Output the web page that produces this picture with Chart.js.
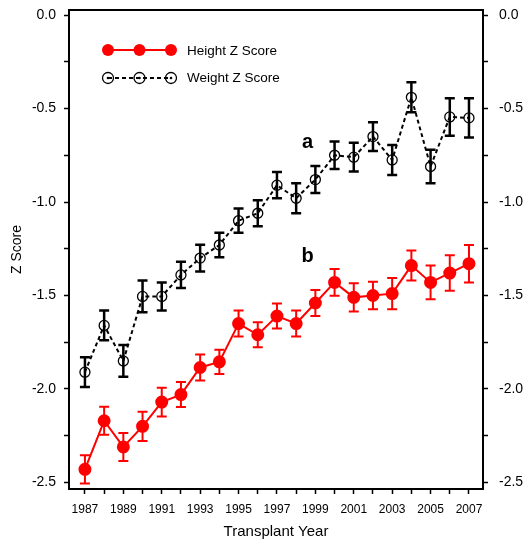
<!DOCTYPE html>
<html>
<head>
<meta charset="utf-8">
<script src="https://cdn.jsdelivr.net/npm/chart.js@4.4.0/dist/chart.umd.min.js"></script>
<style>
  html, body { margin: 0; padding: 0; background: #fff; }
</style>
</head>
<body>
<canvas id="chart" width="523" height="543"></canvas>
<script>
const years = [1987, 1988, 1989, 1990, 1991, 1992, 1993, 1994, 1995, 1996, 1997,
  1998, 1999, 2000, 2001, 2002, 2003, 2004, 2005, 2006, 2007];
const heightZ = [-2.43, -2.17, -2.31, -2.20, -2.07, -2.03, -1.885, -1.855, -1.65, -1.71, -1.61,
  -1.65, -1.54, -1.43, -1.51, -1.50, -1.49, -1.34, -1.43, -1.38, -1.33];
const heightErr = [0.075, 0.075, 0.075, 0.078, 0.077, 0.067, 0.07, 0.065, 0.07, 0.067, 0.067,
  0.07, 0.07, 0.072, 0.075, 0.074, 0.083, 0.08, 0.09, 0.095, 0.1];
const weightZ = [-1.91, -1.66, -1.85, -1.505, -1.505, -1.39, -1.30, -1.23, -1.10, -1.06, -0.91,
  -0.98, -0.88, -0.75, -0.76, -0.65, -0.775, -0.44, -0.81, -0.545, -0.55];
const weightErr = [0.08, 0.08, 0.085, 0.085, 0.075, 0.07, 0.072, 0.065, 0.065, 0.07, 0.07,
  0.08, 0.072, 0.073, 0.077, 0.077, 0.08, 0.08, 0.09, 0.1, 0.105];
const seriesNames = ['Height Z Score', 'Weight Z Score'];
const yTickStep = 0.25;

const FONT = "'Liberation Sans', Arial, sans-serif";
Chart.defaults.font.family = FONT;
Chart.defaults.color = '#000';

// vertical error bars with caps, drawn through the scales
const errorBars = {
  id: 'errorBars',
  afterDatasetsDraw(chart) {
    const { ctx, scales: { x, y } } = chart;
    chart.data.datasets.forEach(ds => {
      ctx.save();
      ctx.strokeStyle = ds.borderColor;
      ctx.lineWidth = ds.errWidth;
      ds.data.forEach((p, i) => {
        const px = x.getPixelForValue(p.x);
        const top = y.getPixelForValue(p.y + ds.errors[i]);
        const bot = y.getPixelForValue(p.y - ds.errors[i]);
        ctx.beginPath();
        ctx.moveTo(px, top); ctx.lineTo(px, bot);
        ctx.moveTo(px - 5, top); ctx.lineTo(px + 5, top);
        ctx.moveTo(px - 5, bot); ctx.lineTo(px + 5, bot);
        ctx.stroke();
      });
      ctx.restore();
    });
  }
};

// box frame, legend and the a / b letters
const extras = {
  id: 'extras',
  afterDraw(chart) {
    const { ctx, chartArea: a, scales: { x, y } } = chart;
    ctx.save();
    ctx.strokeStyle = '#000';
    ctx.lineWidth = 2;
    ctx.strokeRect(a.left, a.top, a.right - a.left, a.bottom - a.top);

    // legend
    const lx = [108, 139.5, 171];
    ctx.lineWidth = 2;
    ctx.strokeStyle = '#ff0000';
    ctx.beginPath(); ctx.moveTo(lx[0], 50); ctx.lineTo(lx[2], 50); ctx.stroke();
    ctx.fillStyle = '#ff0000';
    lx.forEach(cx => { ctx.beginPath(); ctx.arc(cx, 50, 6, 0, Math.PI * 2); ctx.fill(); });

    ctx.strokeStyle = '#000';
    ctx.setLineDash([4, 3]);
    ctx.beginPath(); ctx.moveTo(lx[0], 78); ctx.lineTo(lx[2], 78); ctx.stroke();
    ctx.setLineDash([]);
    ctx.lineWidth = 1.3;
    ctx.fillStyle = '#000';
    lx.forEach(cx => {
      ctx.beginPath(); ctx.arc(cx, 78, 5.5, 0, Math.PI * 2); ctx.stroke();
      ctx.beginPath(); ctx.arc(cx, 78, 1.3, 0, Math.PI * 2); ctx.fill();
    });

    ctx.font = '13.5px ' + FONT;
    ctx.textBaseline = 'middle';
    ctx.fillText(seriesNames[0], 187, 51);
    ctx.fillText(seriesNames[1], 187, 78);

    ctx.font = 'bold 20px ' + FONT;
    ctx.textAlign = 'center';
    ctx.fillText('a', x.getPixelForValue(1998.6), y.getPixelForValue(-0.68));
    ctx.fillText('b', x.getPixelForValue(1998.6), y.getPixelForValue(-1.29));
    ctx.restore();
  }
};

const zLabel = v => {
  const h = v * 2;
  return Math.abs(h - Math.round(h)) < 1e-6 ? v.toFixed(1) : '';
};

// fixed box sizes so the plot frame lands where the original has it
const fixBox = (w, h) => s => {
  if (w) s.width = w;
  if (h) s.height = h;
  s.paddingTop = s.paddingBottom = s.paddingLeft = s.paddingRight = 0;
};

const axisGrid = { drawOnChartArea: false, tickLength: 5, tickWidth: 1.5, tickColor: '#000' };
const axisBorder = { color: '#000', width: 2 };

new Chart(document.getElementById('chart'), {
  type: 'line',
  data: {
    datasets: [{
      label: seriesNames[0],
      data: years.map((yr, i) => ({ x: yr, y: heightZ[i] })),
      errors: heightErr,
      errWidth: 2,
      borderColor: '#ff0000',
      borderWidth: 2,
      pointRadius: 5.5,
      pointBackgroundColor: '#ff0000',
      pointBorderColor: '#ff0000',
      tension: 0
    }, {
      label: seriesNames[1],
      data: years.map((yr, i) => ({ x: yr, y: weightZ[i] })),
      errors: weightErr,
      errWidth: 2.5,
      borderColor: '#000',
      borderWidth: 2,
      borderDash: [4, 3],
      pointRadius: 5,
      pointBorderWidth: 1.3,
      pointBackgroundColor: 'rgba(0,0,0,0)',
      pointBorderColor: '#000',
      tension: 0
    }]
  },
  options: {
    responsive: false,
    devicePixelRatio: 1,
    animation: false,
    layout: { padding: { top: 10, left: 0, right: 0, bottom: 0 } },
    plugins: { legend: { display: false }, tooltip: { enabled: false } },
    scales: {
      x: {
        type: 'linear',
        min: 1986.17,
        max: 2007.73,
        afterFit: fixBox(0, 54),
        grid: axisGrid,
        border: axisBorder,
        ticks: {
          stepSize: 1,
          includeBounds: false,
          autoSkip: false,
          maxRotation: 0,
          padding: 8,
          font: { size: 12, family: "'Liberation Sans Narrow', " + FONT },
          callback: v => (v % 2 === 1 ? String(v) : '')
        },
        title: { display: true, text: 'Transplant Year', font: { size: 15 }, padding: { top: 0, bottom: 2 } }
      },
      y: {
        position: 'left',
        min: -2.535,
        max: 0.027,
        afterFit: fixBox(69, 0),
        grid: axisGrid,
        border: axisBorder,
        ticks: { stepSize: yTickStep, includeBounds: false, padding: 8, font: { size: 14 }, callback: zLabel },
        title: { display: true, text: 'Z Score', font: { size: 14 }, padding: { top: 9, bottom: 0 } }
      },
      y2: {
        position: 'right',
        min: -2.535,
        max: 0.027,
        afterFit: fixBox(40, 0),
        grid: axisGrid,
        border: axisBorder,
        ticks: { stepSize: yTickStep, includeBounds: false, padding: 11, font: { size: 14 }, callback: zLabel }
      }
    }
  },
  plugins: [errorBars, extras]
});
</script>
</body>
</html>
